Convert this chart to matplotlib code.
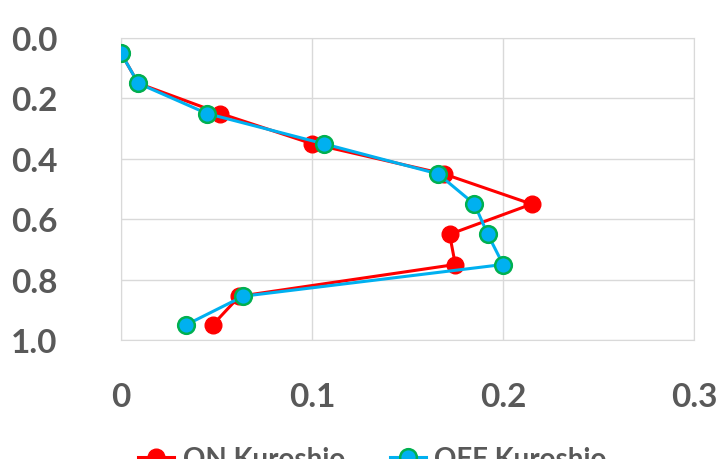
import matplotlib.pyplot as plt
from matplotlib.ticker import FuncFormatter

depth = [0.05, 0.15, 0.25, 0.35, 0.45, 0.55, 0.65, 0.75, 0.855, 0.95]
on_kuroshio = [0.0, 0.009, 0.052, 0.100, 0.169, 0.215, 0.172, 0.175, 0.062, 0.048]
off_kuroshio = [0.0, 0.009, 0.045, 0.106, 0.166, 0.185, 0.192, 0.200, 0.064, 0.034]

x_ticks = [0, 0.1, 0.2, 0.3]
y_ticks = [0.0, 0.2, 0.4, 0.6, 0.8, 1.0]

plt.rcParams['font.family'] = ['Lato', 'DejaVu Sans']
grey = '#595959'

fig = plt.figure(figsize=(7.23, 4.6), dpi=100)
ax = fig.add_axes([0.1674, 0.2587, 0.7926, 0.6565])

ax.plot(on_kuroshio, depth, color='#ff0000', lw=2.2, marker='o', ms=12,
        mfc='#ff0000', mec='#ff0000', label='ON Kuroshio', zorder=3)
ax.plot(off_kuroshio, depth, color='#00b0f0', lw=2.2, marker='o', ms=12,
        mfc='#00b0f0', mec='#00b050', mew=1.8, label='OFF Kuroshio', zorder=4)

ax.set_xlim(0, 0.3)
ax.set_ylim(1.0, 0.0)
ax.set_xticks(x_ticks)
ax.set_yticks(y_ticks)
ax.xaxis.set_major_formatter(FuncFormatter(lambda v, p: '0' if v == 0 else f'{v:.1f}'))
ax.yaxis.set_major_formatter(FuncFormatter(lambda v, p: f'{v:.1f}'))
ax.grid(True, color='#d9d9d9', lw=1)
ax.set_axisbelow(True)
for s in ax.spines.values():
    s.set_color('#d9d9d9')
ax.tick_params(length=0, labelsize=24, labelcolor=grey)
ax.tick_params(axis='y', pad=46)
ax.tick_params(axis='x', pad=30)
for lab in ax.get_xticklabels() + ax.get_yticklabels():
    lab.set_fontweight('bold')

# legend sits at the very bottom edge, partly cut like the original
leg = fig.legend(loc='center', bbox_to_anchor=(0.515, 0.0), ncol=2,
                 frameon=False, columnspacing=1.6, handlelength=1.3,
                 handletextpad=0.3, prop={'weight': 'bold', 'size': 20})
for t in leg.get_texts():
    t.set_color(grey)

fig.savefig('out.png', dpi=100)
